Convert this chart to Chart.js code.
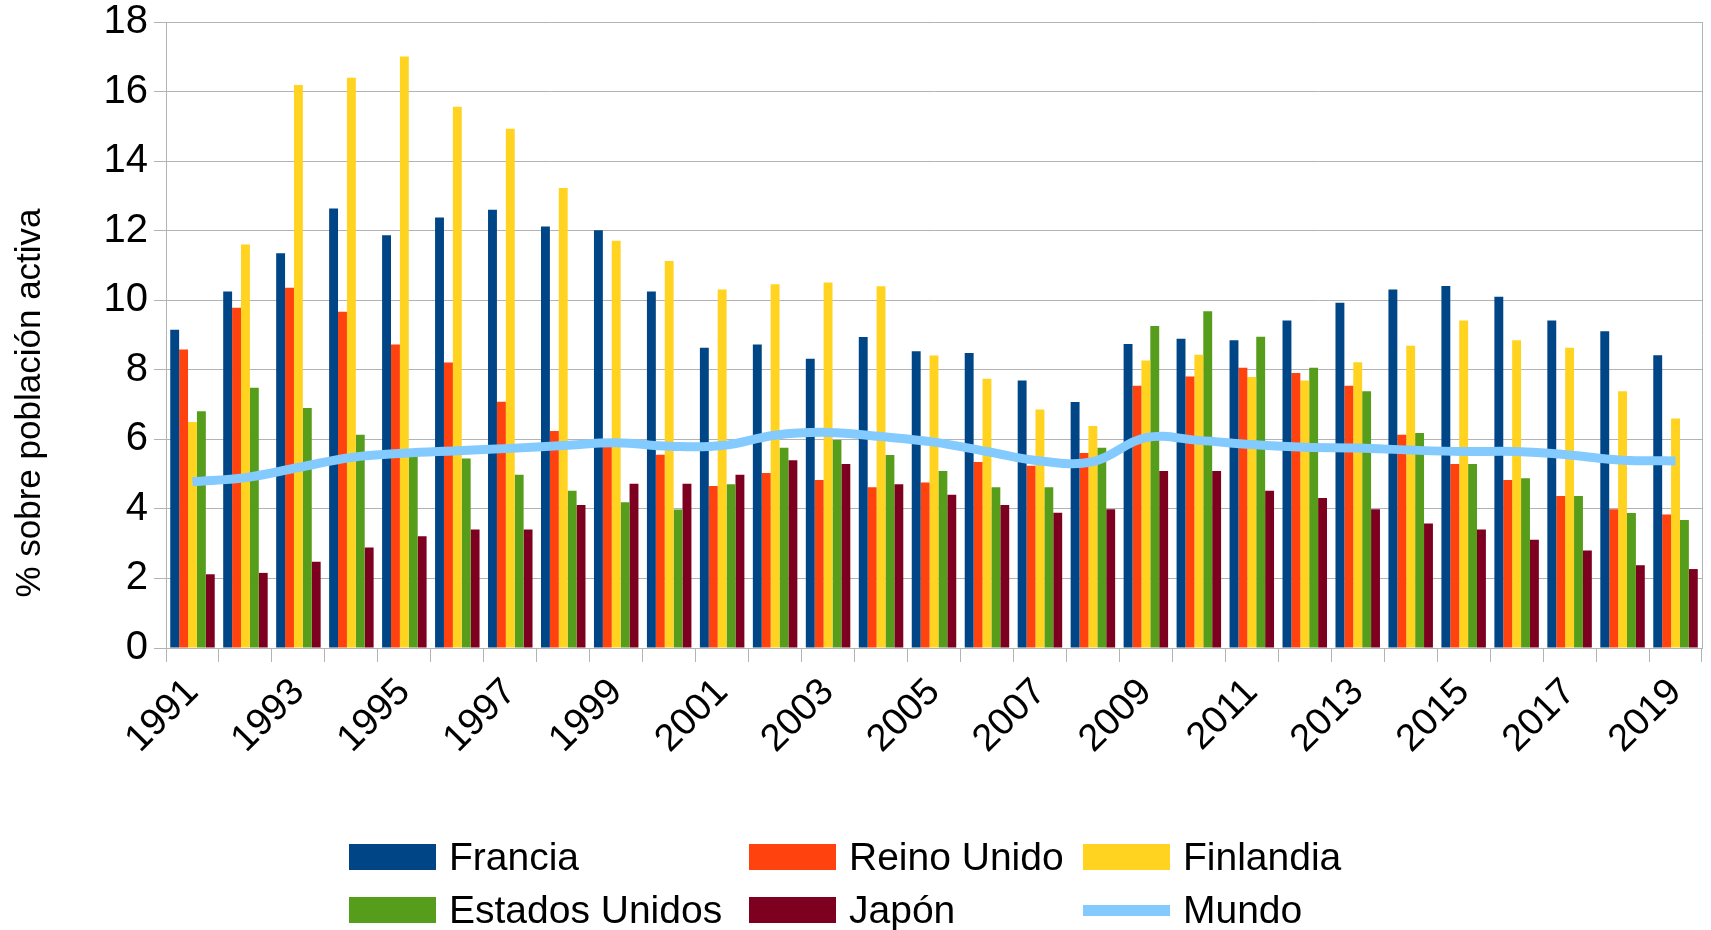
<!DOCTYPE html>
<html>
<head>
<meta charset="utf-8">
<script src="https://cdn.jsdelivr.net/npm/chart.js@4.4.1/dist/chart.umd.min.js"></script>
<style>
html,body{margin:0;padding:0;background:#fff;}
#wrap{position:relative;width:1711px;height:930px;overflow:hidden;}
#c{position:absolute;left:0;top:0;}
.leg{position:absolute;display:flex;align-items:center;height:44px;white-space:nowrap;
  font-family:"Liberation Sans",Arial,sans-serif;font-size:39px;color:#000;}
.leg .sw{width:87px;height:26px;margin-right:13px;flex:none;}
.leg .ln{height:11px;}
</style>
</head>
<body>
<div id="wrap">
<canvas id="c" width="1711" height="930"></canvas>
</div>
<script>
// ---- data ----
const years = ['1991','1992','1993','1994','1995','1996','1997','1998','1999','2000',
  '2001','2002','2003','2004','2005','2006','2007','2008','2009','2010',
  '2011','2012','2013','2014','2015','2016','2017','2018','2019'];
const francia = [9.15,10.25,11.35,12.64,11.87,12.38,12.6,12.12,12.01,10.25,
  8.63,8.73,8.32,8.94,8.53,8.48,7.69,7.07,8.74,8.89,
  8.85,9.42,9.93,10.31,10.41,10.1,9.42,9.11,8.42];
const reinoUnido = [8.58,9.78,10.36,9.67,8.73,8.21,7.08,6.24,5.9,5.56,
  4.66,5.03,4.83,4.62,4.76,5.35,5.24,5.61,7.54,7.81,
  8.06,7.91,7.54,6.13,5.29,4.83,4.37,3.99,3.84];
const finlandia = [6.5,11.6,16.19,16.4,17.01,15.56,14.93,13.23,11.71,11.13,
  10.31,10.46,10.51,10.4,8.41,7.74,6.86,6.38,8.27,8.43,
  7.79,7.69,8.22,8.69,9.42,8.85,8.63,7.38,6.6];
const estadosUnidos = [6.81,7.48,6.9,6.13,5.6,5.45,4.98,4.52,4.19,3.98,
  4.71,5.76,5.98,5.55,5.09,4.62,4.62,5.76,9.26,9.68,
  8.95,8.06,7.38,6.18,5.29,4.88,4.37,3.88,3.68];
const japon = [2.12,2.16,2.48,2.89,3.21,3.41,3.41,4.11,4.72,4.72,
  4.98,5.4,5.29,4.71,4.41,4.11,3.89,3.99,5.09,5.09,
  4.52,4.31,3.99,3.58,3.41,3.11,2.8,2.38,2.27];
const mundo = [4.78,4.9,5.19,5.48,5.6,5.67,5.74,5.82,5.9,5.8,
  5.82,6.12,6.2,6.08,5.92,5.65,5.38,5.36,6.05,5.97,
  5.85,5.77,5.75,5.69,5.65,5.65,5.55,5.4,5.38];
const yTicks = [0,2,4,6,8,10,12,14,16,18];
const seriesNames = ['Francia','Reino Unido','Finlandia','Estados Unidos','Japón','Mundo'];
const yTitle = '% sobre población activa';

// ---- styles ----
const colors = ['#004586','#ff420e','#ffd320','#579d1c','#7e0021','#83caff'];
const FONT = '"Liberation Sans", Arial, sans-serif';
const GRID = '#b3b3b3';

const barSeries = [francia, reinoUnido, finlandia, estadosUnidos, japon];
const datasets = [{
  type: 'line', label: seriesNames[5], data: mundo,
  borderColor: colors[5], backgroundColor: colors[5], borderWidth: 9,
  pointRadius: 0, tension: 0.4, fill: false, order: 0,
  borderCapStyle: 'butt', borderJoinStyle: 'round'
}];
barSeries.forEach((d, i) => datasets.push({
  type: 'bar', label: seriesNames[i], data: d, backgroundColor: colors[i],
  borderWidth: 0, barPercentage: 1.0, categoryPercentage: 0.84, order: 1
}));

const yTitlePlugin = {
  id: 'ytitle',
  afterDraw(chart) {
    const c = chart.ctx;
    c.save();
    c.translate(30, 403);
    c.rotate(-Math.PI / 2);
    c.font = '35px ' + FONT;
    c.fillStyle = '#000';
    c.textAlign = 'center';
    c.textBaseline = 'middle';
    c.fillText(yTitle, 0, 0);
    c.restore();
  }
};

new Chart(document.getElementById('c'), {
  type: 'bar',
  data: { labels: years, datasets },
  plugins: [yTitlePlugin],
  options: {
    responsive: false, animation: false, devicePixelRatio: 1,
    layout: { padding: { top: 22, right: 9, left: 0, bottom: 0 } },
    plugins: { legend: { display: false }, tooltip: { enabled: false } },
    scales: {
      x: {
        offset: true,
        grid: { offset: true, drawOnChartArea: false, drawTicks: true, tickLength: 14, color: GRID },
        border: { color: GRID },
        ticks: {
          autoSkip: false, maxRotation: 45, minRotation: 45, padding: 8,
          color: '#000', font: { family: FONT, size: 38 },
          callback: (v, i) => (i % 2 === 0 ? years[i] : '')
        },
        afterFit: s => { s.height = 282; s.paddingLeft = 0; s.paddingRight = 0; }
      },
      y: {
        min: 0, max: 18,
        afterBuildTicks: s => { s.ticks = yTicks.map(v => ({ value: v })); },
        grid: { color: GRID, tickLength: 12 },
        border: { color: GRID },
        ticks: { padding: 6, color: '#000', font: { family: FONT, size: 40 } },
        afterFit: s => { s.width = 166; s.paddingTop = 0; s.paddingBottom = 0; }
      },
      y2: {
        position: 'right', min: 0, max: 18,
        ticks: { display: false },
        grid: { drawOnChartArea: false, drawTicks: false },
        border: { color: GRID },
        afterFit: s => { s.width = 0; s.paddingTop = 0; s.paddingBottom = 0; }
      }
    }
  }
});

// ---- legend (HTML) ----
const legPos = [[349, 857], [749, 857], [1083, 857], [349, 910], [749, 910], [1083, 910]];
const wrap = document.getElementById('wrap');
seriesNames.forEach((name, k) => {
  const d = document.createElement('div');
  d.className = 'leg';
  d.style.left = legPos[k][0] + 'px';
  d.style.top = (legPos[k][1] - 22) + 'px';
  const sw = document.createElement('span');
  sw.className = 'sw' + (k === 5 ? ' ln' : '');
  sw.style.background = colors[k];
  const t = document.createElement('span');
  t.textContent = name;
  d.appendChild(sw); d.appendChild(t);
  wrap.appendChild(d);
});
</script>
</body>
</html>
